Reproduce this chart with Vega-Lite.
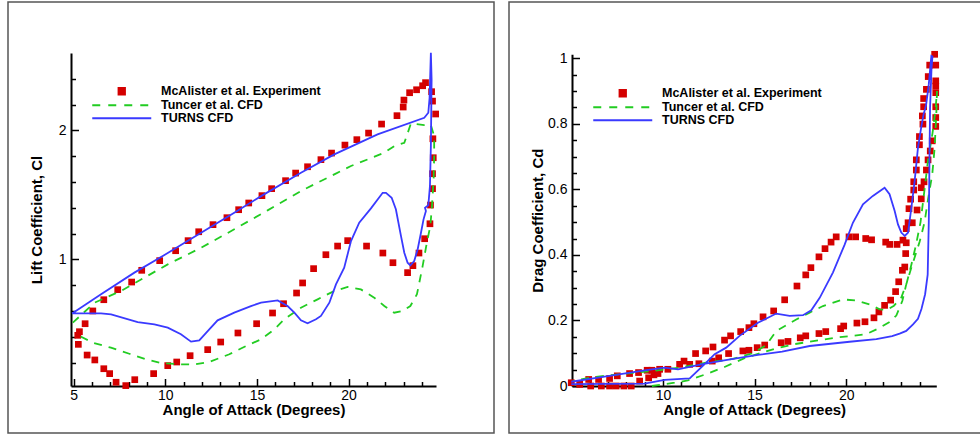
{
  "$schema": "https://vega.github.io/schema/vega-lite/v6.json",
  "padding": {"left": 7, "top": 1, "right": 0, "bottom": 4},
  "spacing": 13,
  "datasets": {
    "liftExp": [
      {"alpha":5.31,"coef":0.439},{"alpha":5.62,"coef":0.501},{"alpha":6.04,"coef":0.600},{"alpha":6.64,"coef":0.687},{"alpha":7.40,"coef":0.765},{"alpha":8.16,"coef":0.824},{"alpha":8.71,"coef":0.915},{"alpha":9.69,"coef":0.990},{"alpha":10.56,"coef":1.067},{"alpha":11.24,"coef":1.145},{"alpha":11.82,"coef":1.214},{"alpha":12.60,"coef":1.269},{"alpha":13.36,"coef":1.323},{"alpha":14.0,"coef":1.385},{"alpha":14.55,"coef":1.437},{"alpha":15.27,"coef":1.494},{"alpha":15.80,"coef":1.548},{"alpha":16.56,"coef":1.610},{"alpha":17.11,"coef":1.669},{"alpha":17.76,"coef":1.718},{"alpha":18.49,"coef":1.773},{"alpha":19.07,"coef":1.824},{"alpha":19.80,"coef":1.886},{"alpha":20.45,"coef":1.928},{"alpha":21.09,"coef":1.979},{"alpha":21.80,"coef":2.049},{"alpha":22.64,"coef":2.114},{"alpha":22.98,"coef":2.181},{"alpha":23.02,"coef":2.235},{"alpha":23.33,"coef":2.292},{"alpha":23.71,"coef":2.315},{"alpha":24.04,"coef":2.346},{"alpha":24.2,"coef":2.370},{"alpha":24.53,"coef":2.300},{"alpha":24.58,"coef":2.227},{"alpha":24.75,"coef":2.127},{"alpha":24.6,"coef":1.935},{"alpha":24.62,"coef":1.788},{"alpha":24.58,"coef":1.664},{"alpha":24.58,"coef":1.548},{"alpha":24.47,"coef":1.421},{"alpha":24.44,"coef":1.276},{"alpha":24.15,"coef":1.160},{"alpha":23.84,"coef":1.049},{"alpha":23.51,"coef":0.951},{"alpha":23.22,"coef":0.897},{"alpha":22.42,"coef":0.974},{"alpha":21.87,"coef":1.049},{"alpha":20.98,"coef":1.103},{"alpha":19.95,"coef":1.145},{"alpha":19.40,"coef":1.103},{"alpha":18.76,"coef":1.036},{"alpha":18.09,"coef":0.928},{"alpha":17.49,"coef":0.817},{"alpha":17.16,"coef":0.739},{"alpha":16.45,"coef":0.656},{"alpha":15.85,"coef":0.584},{"alpha":14.98,"coef":0.501},{"alpha":13.96,"coef":0.429},{"alpha":13.02,"coef":0.359},{"alpha":12.31,"coef":0.300},{"alpha":11.35,"coef":0.253},{"alpha":10.62,"coef":0.204},{"alpha":10.13,"coef":0.176},{"alpha":9.36,"coef":0.114},{"alpha":8.33,"coef":0.067},{"alpha":7.84,"coef":0.021},{"alpha":7.31,"coef":0.047},{"alpha":6.96,"coef":0.114},{"alpha":6.64,"coef":0.152},{"alpha":6.15,"coef":0.220},{"alpha":5.73,"coef":0.258},{"alpha":5.25,"coef":0.341},{"alpha":5.22,"coef":0.411}
    ],
    "liftTuncer": [
      {"alpha":4.95,"coef":0.509,"seq":1},{"alpha":6.13,"coef":0.664,"seq":2},{"alpha":7.58,"coef":0.755,"seq":3},{"alpha":8.85,"coef":0.858,"seq":4},{"alpha":10.13,"coef":0.961,"seq":5},{"alpha":11.95,"coef":1.090,"seq":6},{"alpha":13.76,"coef":1.233,"seq":7},{"alpha":15.58,"coef":1.380,"seq":8},{"alpha":17.4,"coef":1.530,"seq":9},{"alpha":19.22,"coef":1.659,"seq":10},{"alpha":20.13,"coef":1.724,"seq":11},{"alpha":21.04,"coef":1.775,"seq":12},{"alpha":21.95,"coef":1.827,"seq":13},{"alpha":22.49,"coef":1.878,"seq":14},{"alpha":23.04,"coef":1.904,"seq":15},{"alpha":23.22,"coef":1.977,"seq":16},{"alpha":23.4,"coef":2.054,"seq":17},{"alpha":24.13,"coef":2.041,"seq":18},{"alpha":24.49,"coef":2.041,"seq":19},{"alpha":24.67,"coef":1.956,"seq":20},{"alpha":24.67,"coef":1.80,"seq":21},{"alpha":24.64,"coef":1.620,"seq":22},{"alpha":24.55,"coef":1.413,"seq":23},{"alpha":24.46,"coef":1.258,"seq":24},{"alpha":24.27,"coef":1.129,"seq":25},{"alpha":24.04,"coef":0.948,"seq":26},{"alpha":23.73,"coef":0.729,"seq":27},{"alpha":23.37,"coef":0.638,"seq":28},{"alpha":22.95,"coef":0.600,"seq":29},{"alpha":22.49,"coef":0.586,"seq":30},{"alpha":21.95,"coef":0.638,"seq":31},{"alpha":21.4,"coef":0.703,"seq":32},{"alpha":20.67,"coef":0.767,"seq":33},{"alpha":19.95,"coef":0.786,"seq":34},{"alpha":19.22,"coef":0.755,"seq":35},{"alpha":18.31,"coef":0.690,"seq":36},{"alpha":17.4,"coef":0.625,"seq":37},{"alpha":16.49,"coef":0.535,"seq":38},{"alpha":15.95,"coef":0.457,"seq":39},{"alpha":15.22,"coef":0.380,"seq":40},{"alpha":14.4,"coef":0.328,"seq":41},{"alpha":13.49,"coef":0.264,"seq":42},{"alpha":12.4,"coef":0.205,"seq":43},{"alpha":11.6,"coef":0.185,"seq":44},{"alpha":10.8,"coef":0.186,"seq":45},{"alpha":9.8,"coef":0.195,"seq":46},{"alpha":8.94,"coef":0.225,"seq":47},{"alpha":8.03,"coef":0.268,"seq":48},{"alpha":7.03,"coef":0.315,"seq":49},{"alpha":6.04,"coef":0.354,"seq":50},{"alpha":5.13,"coef":0.419,"seq":51}
    ],
    "liftTurns": [
      {"alpha":4.91,"coef":0.581,"seq":1},{"alpha":6.49,"coef":0.729,"seq":2},{"alpha":8.31,"coef":0.897,"seq":3},{"alpha":9.95,"coef":1.034,"seq":4},{"alpha":11.95,"coef":1.207,"seq":5},{"alpha":13.76,"coef":1.362,"seq":6},{"alpha":15.27,"coef":1.494,"seq":7},{"alpha":17.4,"coef":1.672,"seq":8},{"alpha":19.22,"coef":1.814,"seq":9},{"alpha":21.58,"coef":1.969,"seq":10},{"alpha":24.13,"coef":2.098,"seq":11},{"alpha":24.35,"coef":2.137,"seq":12},{"alpha":24.42,"coef":2.253,"seq":13},{"alpha":24.49,"coef":2.602,"seq":14},{"alpha":24.53,"coef":2.395,"seq":15},{"alpha":24.49,"coef":1.878,"seq":16},{"alpha":24.44,"coef":1.568,"seq":17},{"alpha":24.35,"coef":1.419,"seq":18},{"alpha":24.17,"coef":1.40,"seq":19},{"alpha":24.22,"coef":1.374,"seq":20},{"alpha":24.09,"coef":1.31,"seq":21},{"alpha":23.95,"coef":1.206,"seq":22},{"alpha":23.77,"coef":1.078,"seq":23},{"alpha":23.58,"coef":0.987,"seq":24},{"alpha":23.37,"coef":0.953,"seq":25},{"alpha":23.22,"coef":0.974,"seq":26},{"alpha":23.04,"coef":1.051,"seq":27},{"alpha":22.86,"coef":1.18,"seq":28},{"alpha":22.58,"coef":1.388,"seq":29},{"alpha":22.35,"coef":1.478,"seq":30},{"alpha":22.04,"coef":1.516,"seq":31},{"alpha":21.86,"coef":1.516,"seq":32},{"alpha":21.22,"coef":1.395,"seq":33},{"alpha":20.58,"coef":1.284,"seq":34},{"alpha":20.13,"coef":1.142,"seq":35},{"alpha":19.76,"coef":0.935,"seq":36},{"alpha":19.31,"coef":0.806,"seq":37},{"alpha":18.95,"coef":0.664,"seq":38},{"alpha":18.49,"coef":0.561,"seq":39},{"alpha":18.22,"coef":0.535,"seq":40},{"alpha":17.76,"coef":0.504,"seq":41},{"alpha":17.40,"coef":0.527,"seq":42},{"alpha":17.04,"coef":0.587,"seq":43},{"alpha":16.67,"coef":0.638,"seq":44},{"alpha":16.13,"coef":0.682,"seq":45},{"alpha":15.22,"coef":0.664,"seq":46},{"alpha":14.67,"coef":0.638,"seq":47},{"alpha":13.76,"coef":0.587,"seq":48},{"alpha":12.85,"coef":0.527,"seq":49},{"alpha":12.31,"coef":0.444,"seq":50},{"alpha":11.85,"coef":0.372,"seq":51},{"alpha":11.40,"coef":0.362,"seq":52},{"alpha":10.85,"coef":0.419,"seq":53},{"alpha":10.13,"coef":0.470,"seq":54},{"alpha":9.40,"coef":0.496,"seq":55},{"alpha":8.49,"coef":0.514,"seq":56},{"alpha":7.04,"coef":0.574,"seq":57},{"alpha":6.49,"coef":0.581,"seq":58},{"alpha":4.91,"coef":0.581,"seq":59}
    ],
    "dragExp": [
      {"alpha":5.0,"coef":0.010},{"alpha":5.46,"coef":0.005},{"alpha":5.95,"coef":0.020},{"alpha":6.06,"coef":0.0},{"alpha":6.49,"coef":0.020},{"alpha":6.64,"coef":0.0},{"alpha":7.09,"coef":0.023},{"alpha":7.09,"coef":0.0},{"alpha":7.51,"coef":0.031},{"alpha":7.45,"coef":0.0},{"alpha":7.87,"coef":0.0},{"alpha":8.18,"coef":0.038},{"alpha":8.27,"coef":0.0},{"alpha":8.67,"coef":0.041},{"alpha":8.73,"coef":0.015},{"alpha":9.14,"coef":0.048},{"alpha":9.22,"coef":0.025},{"alpha":9.40,"coef":0.048},{"alpha":9.51,"coef":0.034},{"alpha":9.73,"coef":0.038},{"alpha":9.82,"coef":0.051},{"alpha":10.27,"coef":0.051},{"alpha":10.91,"coef":0.066},{"alpha":11.15,"coef":0.076},{"alpha":11.46,"coef":0.066},{"alpha":11.78,"coef":0.099},{"alpha":11.96,"coef":0.068},{"alpha":12.33,"coef":0.107},{"alpha":12.69,"coef":0.076},{"alpha":12.73,"coef":0.119},{"alpha":13.04,"coef":0.086},{"alpha":13.36,"coef":0.140},{"alpha":13.58,"coef":0.099},{"alpha":13.69,"coef":0.153},{"alpha":14.24,"coef":0.166},{"alpha":14.36,"coef":0.107},{"alpha":14.69,"coef":0.109},{"alpha":14.69,"coef":0.178},{"alpha":14.96,"coef":0.190},{"alpha":15.14,"coef":0.117},
      {"alpha":15.46,"coef":0.211},{"alpha":16.04,"coef":0.229},{"alpha":16.64,"coef":0.263},{"alpha":17.31,"coef":0.305},{"alpha":17.79,"coef":0.339},{"alpha":18.07,"coef":0.361},{"alpha":18.51,"coef":0.394},{"alpha":18.84,"coef":0.419},{"alpha":19.17,"coef":0.439},{"alpha":19.45,"coef":0.455},{"alpha":20.15,"coef":0.455},{"alpha":20.51,"coef":0.455},{"alpha":21.06,"coef":0.450},{"alpha":21.38,"coef":0.446},{"alpha":22.15,"coef":0.439},{"alpha":22.37,"coef":0.432},{"alpha":22.77,"coef":0.432},{"alpha":23.09,"coef":0.445},{"alpha":23.27,"coef":0.437},{"alpha":23.24,"coef":0.404},{"alpha":23.19,"coef":0.363},{"alpha":23.06,"coef":0.353},{"alpha":22.86,"coef":0.318},{"alpha":22.69,"coef":0.288},{"alpha":22.42,"coef":0.262},{"alpha":22.09,"coef":0.246},{"alpha":21.78,"coef":0.226},{"alpha":21.51,"coef":0.208},{"alpha":21.02,"coef":0.196},{"alpha":20.58,"coef":0.192},{"alpha":19.86,"coef":0.183},{"alpha":19.69,"coef":0.175},{"alpha":18.88,"coef":0.166},{"alpha":18.51,"coef":0.160},{"alpha":17.79,"coef":0.153},{"alpha":17.49,"coef":0.147},{"alpha":16.82,"coef":0.136},{"alpha":16.45,"coef":0.132},{"alpha":15.55,"coef":0.125},
      {"alpha":23.27,"coef":0.480},{"alpha":23.37,"coef":0.498},{"alpha":23.60,"coef":0.498},{"alpha":23.42,"coef":0.541},{"alpha":23.86,"coef":0.537},{"alpha":23.51,"coef":0.570},{"alpha":24.09,"coef":0.571},{"alpha":23.68,"coef":0.598},{"alpha":24.09,"coef":0.605},{"alpha":23.68,"coef":0.623},{"alpha":24.24,"coef":0.623},{"alpha":23.82,"coef":0.659},{"alpha":24.37,"coef":0.659},{"alpha":23.82,"coef":0.690},{"alpha":24.46,"coef":0.690},{"alpha":24.58,"coef":0.717},{"alpha":23.99,"coef":0.736},{"alpha":24.69,"coef":0.748},{"alpha":23.99,"coef":0.761},{"alpha":24.88,"coef":0.792},{"alpha":24.18,"coef":0.799},{"alpha":24.88,"coef":0.819},{"alpha":24.15,"coef":0.824},{"alpha":24.22,"coef":0.852},{"alpha":24.88,"coef":0.852},{"alpha":24.22,"coef":0.877},{"alpha":24.88,"coef":0.895},{"alpha":24.37,"coef":0.905},{"alpha":24.88,"coef":0.915},{"alpha":24.88,"coef":0.931},{"alpha":24.47,"coef":0.944},{"alpha":24.55,"coef":0.979},{"alpha":24.88,"coef":0.979},{"alpha":24.82,"coef":1.012}
    ],
    "dragTuncer": [
      {"alpha":9.4,"coef":0.0,"seq":1},{"alpha":10.0,"coef":0.005,"seq":2},{"alpha":10.64,"coef":0.010,"seq":3},{"alpha":11.36,"coef":0.017,"seq":4},{"alpha":12.45,"coef":0.038,"seq":5},{"alpha":13.36,"coef":0.058,"seq":6},{"alpha":14.45,"coef":0.085,"seq":7},{"alpha":15.18,"coef":0.098,"seq":8},{"alpha":16.18,"coef":0.115,"seq":9},{"alpha":17.2,"coef":0.128,"seq":10},{"alpha":18.0,"coef":0.135,"seq":11},{"alpha":19.45,"coef":0.148,"seq":12},{"alpha":20.18,"coef":0.152,"seq":13},{"alpha":21.09,"coef":0.158,"seq":14},{"alpha":21.73,"coef":0.175,"seq":15},{"alpha":22.36,"coef":0.195,"seq":16},{"alpha":22.73,"coef":0.215,"seq":17},{"alpha":23.06,"coef":0.26,"seq":18},{"alpha":23.27,"coef":0.31,"seq":19},{"alpha":23.6,"coef":0.37,"seq":20},{"alpha":24.0,"coef":0.44,"seq":21},{"alpha":24.27,"coef":0.50,"seq":22},{"alpha":24.46,"coef":0.57,"seq":23},{"alpha":24.69,"coef":0.646,"seq":24},{"alpha":24.82,"coef":0.727,"seq":25},{"alpha":24.91,"coef":0.829,"seq":26},{"alpha":24.95,"coef":0.90,"seq":27},{"alpha":24.86,"coef":0.84,"seq":28},{"alpha":24.7,"coef":0.77,"seq":29},{"alpha":24.46,"coef":0.69,"seq":30},{"alpha":24.27,"coef":0.60,"seq":31},{"alpha":24.05,"coef":0.50,"seq":32},{"alpha":23.8,"coef":0.43,"seq":33},{"alpha":23.55,"coef":0.37,"seq":34},{"alpha":23.3,"coef":0.315,"seq":35},{"alpha":23.0,"coef":0.27,"seq":36},{"alpha":22.6,"coef":0.245,"seq":37},{"alpha":22.2,"coef":0.232,"seq":38},{"alpha":21.82,"coef":0.234,"seq":39},{"alpha":21.27,"coef":0.249,"seq":40},{"alpha":20.55,"coef":0.261,"seq":41},{"alpha":19.82,"coef":0.264,"seq":42},{"alpha":18.73,"coef":0.244,"seq":43},{"alpha":18.0,"coef":0.224,"seq":44},{"alpha":17.27,"coef":0.203,"seq":45},{"alpha":16.18,"coef":0.168,"seq":46},{"alpha":15.64,"coef":0.125,"seq":47},{"alpha":14.91,"coef":0.100,"seq":48},{"alpha":13.82,"coef":0.083,"seq":49},{"alpha":12.36,"coef":0.071,"seq":50},{"alpha":10.91,"coef":0.056,"seq":51},{"alpha":9.45,"coef":0.046,"seq":52},{"alpha":8.0,"coef":0.038,"seq":53},{"alpha":6.18,"coef":0.027,"seq":54},{"alpha":5.09,"coef":0.015,"seq":55}
    ],
    "dragTurns": [
      {"alpha":5.0,"coef":0.013,"seq":1},{"alpha":6.64,"coef":0.027,"seq":2},{"alpha":9.0,"coef":0.048,"seq":3},{"alpha":10.09,"coef":0.056,"seq":4},{"alpha":10.82,"coef":0.051,"seq":5},{"alpha":12.09,"coef":0.066,"seq":6},{"alpha":13.5,"coef":0.080,"seq":7},{"alpha":15.18,"coef":0.095,"seq":8},{"alpha":16.5,"coef":0.105,"seq":9},{"alpha":18.0,"coef":0.122,"seq":10},{"alpha":20.18,"coef":0.135,"seq":11},{"alpha":21.64,"coef":0.143,"seq":12},{"alpha":22.5,"coef":0.152,"seq":13},{"alpha":22.91,"coef":0.160,"seq":14},{"alpha":23.27,"coef":0.168,"seq":15},{"alpha":23.64,"coef":0.188,"seq":16},{"alpha":23.91,"coef":0.205,"seq":17},{"alpha":24.1,"coef":0.235,"seq":18},{"alpha":24.3,"coef":0.28,"seq":19},{"alpha":24.44,"coef":0.34,"seq":20},{"alpha":24.5,"coef":0.50,"seq":21},{"alpha":24.53,"coef":0.65,"seq":22},{"alpha":24.57,"coef":0.85,"seq":23},{"alpha":24.65,"coef":0.97,"seq":24},{"alpha":24.7,"coef":1.005,"seq":25},{"alpha":24.64,"coef":1.007,"seq":26},{"alpha":24.5,"coef":0.92,"seq":27},{"alpha":24.36,"coef":0.86,"seq":28},{"alpha":24.3,"coef":0.845,"seq":29},{"alpha":24.22,"coef":0.83,"seq":30},{"alpha":24.09,"coef":0.79,"seq":31},{"alpha":23.91,"coef":0.727,"seq":32},{"alpha":23.73,"coef":0.626,"seq":33},{"alpha":23.55,"coef":0.544,"seq":34},{"alpha":23.37,"coef":0.468,"seq":35},{"alpha":23.19,"coef":0.458,"seq":36},{"alpha":23.0,"coef":0.468,"seq":37},{"alpha":22.82,"coef":0.493,"seq":38},{"alpha":22.64,"coef":0.534,"seq":39},{"alpha":22.36,"coef":0.585,"seq":40},{"alpha":22.09,"coef":0.605,"seq":41},{"alpha":21.45,"coef":0.580,"seq":42},{"alpha":20.91,"coef":0.554,"seq":43},{"alpha":20.36,"coef":0.498,"seq":44},{"alpha":19.9,"coef":0.43,"seq":45},{"alpha":19.27,"coef":0.346,"seq":46},{"alpha":18.55,"coef":0.269,"seq":47},{"alpha":18.09,"coef":0.231,"seq":48},{"alpha":17.64,"coef":0.216,"seq":49},{"alpha":16.91,"coef":0.214,"seq":50},{"alpha":16.18,"coef":0.221,"seq":51},{"alpha":15.18,"coef":0.193,"seq":52},{"alpha":14.18,"coef":0.153,"seq":53},{"alpha":13.45,"coef":0.117,"seq":54},{"alpha":12.82,"coef":0.097,"seq":55},{"alpha":12.36,"coef":0.071,"seq":56},{"alpha":11.46,"coef":0.023,"seq":57},{"alpha":10.09,"coef":0.019,"seq":58},{"alpha":9.0,"coef":0.007,"seq":59},{"alpha":5.0,"coef":0.006,"seq":60}
    ]
  },
  "config": {
    "view": {"stroke": "#555555", "strokeWidth": 1.5},
    "font": "Liberation Sans",
    "axis": {
      "grid": false, "domainColor": "#000000", "domainWidth": 2, "tickColor": "#000000", "tickWidth": 1.5,
      "labelColor": "#000000", "labelFont": "Liberation Sans", "labelFontSize": 14, "labelFlush": false, "labelOverlap": false,
      "titleColor": "#000000", "titleFont": "Liberation Sans", "titleFontSize": 15, "titleFontWeight": "bold"
    },
    "legend": {
      "orient": "none", "title": null, "symbolSize": 100, "symbolStrokeWidth": 2, "padding": 0,
      "labelFont": "Liberation Sans", "labelFontWeight": "bold", "labelFontSize": 12.5, "labelColor": "#000000",
      "labelOffset": 33, "labelLimit": 400, "rowPadding": -3
    }
  },
  "resolve": {
    "scale": {"x": "independent", "y": "independent", "color": "independent"},
    "legend": {"color": "independent"}
  },
  "hconcat": [
    {
      "width": 486, "height": 431,
      "resolve": {"axis": {"x": "independent", "y": "independent"}},
      "layer": [
        {
          "data": {"name": "liftExp"},
          "mark": {"type": "square", "size": 45, "opacity": 1, "filled": true},
          "encoding": {
            "x": {"field": "alpha", "type": "quantitative", "scale": {"domain": [4.85, 24.77], "range": [63, 428], "nice": false, "zero": false},
                  "axis": {"orient": "bottom", "offset": -47, "values": [6,7,8,9,11,12,13,14,16,17,18,19,21,22,23,24], "labels": false, "domain": false, "tickSize": -4.5, "title": null}},
            "y": {"field": "coef", "type": "quantitative", "scale": {"domain": [0.018, 2.6], "range": [384, 51], "nice": false, "zero": false},
                  "axis": {"orient": "left", "offset": -63, "values": [0.2,0.4,0.6,0.8,1.2,1.4,1.6,1.8,2.2,2.4], "labels": false, "domain": false, "tickSize": -4.5, "title": null}},
            "color": {"datum": "McAlister et al. Experiment", "type": "nominal",
                      "scale": {"domain": ["McAlister et al. Experiment", "Tuncer et al. CFD", "TURNS CFD"], "range": ["#d40000", "#22cc22", "#3a3aff"]},
                      "legend": {"legendX": 107.5, "legendY": 83,
                        "encode": {"symbols": {"update": {
                          "shape": {"signal": "datum.value === 'McAlister et al. Experiment' ? 'square' : 'M-5.9,0H5.9'"},
                          "size": {"signal": "datum.value === 'McAlister et al. Experiment' ? 40 : 100"},
                          "fill": {"signal": "datum.value === 'McAlister et al. Experiment' ? '#d40000' : 'transparent'"},
                          "stroke": {"signal": "datum.value === 'McAlister et al. Experiment' ? 'transparent' : (datum.value === 'Tuncer et al. CFD' ? '#22cc22' : '#3a3aff')"},
                          "strokeDash": {"signal": "datum.value === 'Tuncer et al. CFD' ? [8,8] : [1,0]"},
                          "strokeWidth": {"value": 2},
                          "opacity": {"value": 1}
                        }}}}}
          }
        },
        {
          "data": {"name": "liftTuncer"},
          "mark": {"type": "line", "strokeWidth": 1.8, "strokeDash": [8, 7]},
          "encoding": {
            "x": {"field": "alpha", "type": "quantitative", "scale": {"domain": [4.85, 24.77], "range": [63, 428], "nice": false, "zero": false},
                  "axis": {"orient": "bottom", "offset": -47, "values": [5,10,15,20], "tickSize": -7.5, "labelPadding": 9.5, "title": "Angle of Attack (Degrees)", "titleY": 28.5, "titleBaseline": "alphabetic"}},
            "y": {"field": "coef", "type": "quantitative", "scale": {"domain": [0.018, 2.6], "range": [384, 51], "nice": false, "zero": false},
                  "axis": {"orient": "left", "offset": -63, "values": [1,2], "tickSize": -7.5, "labelPadding": 12.5, "title": "Lift Coefficient, Cl", "titleX": -29.5, "titleBaseline": "alphabetic"}},
            "color": {"datum": "Tuncer et al. CFD", "type": "nominal",
                      "scale": {"domain": ["McAlister et al. Experiment", "Tuncer et al. CFD", "TURNS CFD"], "range": ["#d40000", "#22cc22", "#3a3aff"]},
                      "legend": {"legendX": 107.5, "legendY": 83,
                        "encode": {"symbols": {"update": {
                          "shape": {"signal": "datum.value === 'McAlister et al. Experiment' ? 'square' : 'M-5.9,0H5.9'"},
                          "size": {"signal": "datum.value === 'McAlister et al. Experiment' ? 40 : 100"},
                          "fill": {"signal": "datum.value === 'McAlister et al. Experiment' ? '#d40000' : 'transparent'"},
                          "stroke": {"signal": "datum.value === 'McAlister et al. Experiment' ? 'transparent' : (datum.value === 'Tuncer et al. CFD' ? '#22cc22' : '#3a3aff')"},
                          "strokeDash": {"signal": "datum.value === 'Tuncer et al. CFD' ? [8,8] : [1,0]"},
                          "strokeWidth": {"value": 2},
                          "opacity": {"value": 1}
                        }}}}},
            "order": {"field": "seq", "type": "quantitative"}
          }
        },
        {
          "data": {"name": "liftTurns"},
          "mark": {"type": "line", "strokeWidth": 1.8},
          "encoding": {
            "x": {"field": "alpha", "type": "quantitative", "scale": {"domain": [4.85, 24.77], "range": [63, 428], "nice": false, "zero": false}, "axis": null},
            "y": {"field": "coef", "type": "quantitative", "scale": {"domain": [0.018, 2.6], "range": [384, 51], "nice": false, "zero": false}, "axis": null},
            "color": {"datum": "TURNS CFD", "type": "nominal",
                      "scale": {"domain": ["McAlister et al. Experiment", "Tuncer et al. CFD", "TURNS CFD"], "range": ["#d40000", "#22cc22", "#3a3aff"]},
                      "legend": {"legendX": 107.5, "legendY": 83,
                        "encode": {"symbols": {"update": {
                          "shape": {"signal": "datum.value === 'McAlister et al. Experiment' ? 'square' : 'M-5.9,0H5.9'"},
                          "size": {"signal": "datum.value === 'McAlister et al. Experiment' ? 40 : 100"},
                          "fill": {"signal": "datum.value === 'McAlister et al. Experiment' ? '#d40000' : 'transparent'"},
                          "stroke": {"signal": "datum.value === 'McAlister et al. Experiment' ? 'transparent' : (datum.value === 'Tuncer et al. CFD' ? '#22cc22' : '#3a3aff')"},
                          "strokeDash": {"signal": "datum.value === 'Tuncer et al. CFD' ? [8,8] : [1,0]"},
                          "strokeWidth": {"value": 2},
                          "opacity": {"value": 1}
                        }}}}},
            "order": {"field": "seq", "type": "quantitative"}
          }
        }
      ]
    },
    {
      "width": 474, "height": 431,
      "resolve": {"axis": {"x": "independent", "y": "independent"}},
      "layer": [
        {
          "data": {"name": "dragExp"},
          "mark": {"type": "square", "size": 45, "opacity": 1, "filled": true},
          "encoding": {
            "x": {"field": "alpha", "type": "quantitative", "scale": {"domain": [5.04, 24.91], "range": [63, 427.3], "nice": false, "zero": false},
                  "axis": {"orient": "bottom", "offset": -47, "values": [6,7,8,9,11,12,13,14,16,17,18,19,21,22,23,24], "labels": false, "domain": false, "tickSize": -4.5, "title": null}},
            "y": {"field": "coef", "type": "quantitative", "scale": {"domain": [0, 1.012], "range": [384, 52.3], "nice": false, "zero": false},
                  "axis": {"orient": "left", "offset": -63, "values": [0.05,0.1,0.15,0.25,0.3,0.35,0.45,0.5,0.55,0.65,0.7,0.75,0.85,0.9,0.95], "labels": false, "domain": false, "tickSize": -4.5, "title": null}},
            "color": {"datum": "McAlister et al. Experiment", "type": "nominal",
                      "scale": {"domain": ["McAlister et al. Experiment", "Tuncer et al. CFD", "TURNS CFD"], "range": ["#d40000", "#22cc22", "#3a3aff"]},
                      "legend": {"legendX": 107.5, "legendY": 85,
                        "encode": {"symbols": {"update": {
                          "shape": {"signal": "datum.value === 'McAlister et al. Experiment' ? 'square' : 'M-5.9,0H5.9'"},
                          "size": {"signal": "datum.value === 'McAlister et al. Experiment' ? 40 : 100"},
                          "fill": {"signal": "datum.value === 'McAlister et al. Experiment' ? '#d40000' : 'transparent'"},
                          "stroke": {"signal": "datum.value === 'McAlister et al. Experiment' ? 'transparent' : (datum.value === 'Tuncer et al. CFD' ? '#22cc22' : '#3a3aff')"},
                          "strokeDash": {"signal": "datum.value === 'Tuncer et al. CFD' ? [8,8] : [1,0]"},
                          "strokeWidth": {"value": 2},
                          "opacity": {"value": 1}
                        }}}}}
          }
        },
        {
          "data": {"name": "dragTuncer"},
          "mark": {"type": "line", "strokeWidth": 1.8, "strokeDash": [8, 7]},
          "encoding": {
            "x": {"field": "alpha", "type": "quantitative", "scale": {"domain": [5.04, 24.91], "range": [63, 427.3], "nice": false, "zero": false},
                  "axis": {"orient": "bottom", "offset": -47, "values": [10,15,20], "tickSize": -7.5, "labelPadding": 9.5, "title": "Angle of Attack (Degrees)", "titleY": 28.5, "titleBaseline": "alphabetic"}},
            "y": {"field": "coef", "type": "quantitative", "scale": {"domain": [0, 1.012], "range": [384, 52.3], "nice": false, "zero": false},
                  "axis": {"orient": "left", "offset": -63, "values": [0,0.2,0.4,0.6,0.8,1], "format": "~g", "tickSize": -7.5, "labelPadding": 12.5, "title": "Drag Coefficient, Cd", "titleX": -29.5, "titleBaseline": "alphabetic"}},
            "color": {"datum": "Tuncer et al. CFD", "type": "nominal",
                      "scale": {"domain": ["McAlister et al. Experiment", "Tuncer et al. CFD", "TURNS CFD"], "range": ["#d40000", "#22cc22", "#3a3aff"]},
                      "legend": {"legendX": 107.5, "legendY": 85,
                        "encode": {"symbols": {"update": {
                          "shape": {"signal": "datum.value === 'McAlister et al. Experiment' ? 'square' : 'M-5.9,0H5.9'"},
                          "size": {"signal": "datum.value === 'McAlister et al. Experiment' ? 40 : 100"},
                          "fill": {"signal": "datum.value === 'McAlister et al. Experiment' ? '#d40000' : 'transparent'"},
                          "stroke": {"signal": "datum.value === 'McAlister et al. Experiment' ? 'transparent' : (datum.value === 'Tuncer et al. CFD' ? '#22cc22' : '#3a3aff')"},
                          "strokeDash": {"signal": "datum.value === 'Tuncer et al. CFD' ? [8,8] : [1,0]"},
                          "strokeWidth": {"value": 2},
                          "opacity": {"value": 1}
                        }}}}},
            "order": {"field": "seq", "type": "quantitative"}
          }
        },
        {
          "data": {"name": "dragTurns"},
          "mark": {"type": "line", "strokeWidth": 1.8},
          "encoding": {
            "x": {"field": "alpha", "type": "quantitative", "scale": {"domain": [5.04, 24.91], "range": [63, 427.3], "nice": false, "zero": false}, "axis": null},
            "y": {"field": "coef", "type": "quantitative", "scale": {"domain": [0, 1.012], "range": [384, 52.3], "nice": false, "zero": false}, "axis": null},
            "color": {"datum": "TURNS CFD", "type": "nominal",
                      "scale": {"domain": ["McAlister et al. Experiment", "Tuncer et al. CFD", "TURNS CFD"], "range": ["#d40000", "#22cc22", "#3a3aff"]},
                      "legend": {"legendX": 107.5, "legendY": 85,
                        "encode": {"symbols": {"update": {
                          "shape": {"signal": "datum.value === 'McAlister et al. Experiment' ? 'square' : 'M-5.9,0H5.9'"},
                          "size": {"signal": "datum.value === 'McAlister et al. Experiment' ? 40 : 100"},
                          "fill": {"signal": "datum.value === 'McAlister et al. Experiment' ? '#d40000' : 'transparent'"},
                          "stroke": {"signal": "datum.value === 'McAlister et al. Experiment' ? 'transparent' : (datum.value === 'Tuncer et al. CFD' ? '#22cc22' : '#3a3aff')"},
                          "strokeDash": {"signal": "datum.value === 'Tuncer et al. CFD' ? [8,8] : [1,0]"},
                          "strokeWidth": {"value": 2},
                          "opacity": {"value": 1}
                        }}}}},
            "order": {"field": "seq", "type": "quantitative"}
          }
        }
      ]
    }
  ]
}
